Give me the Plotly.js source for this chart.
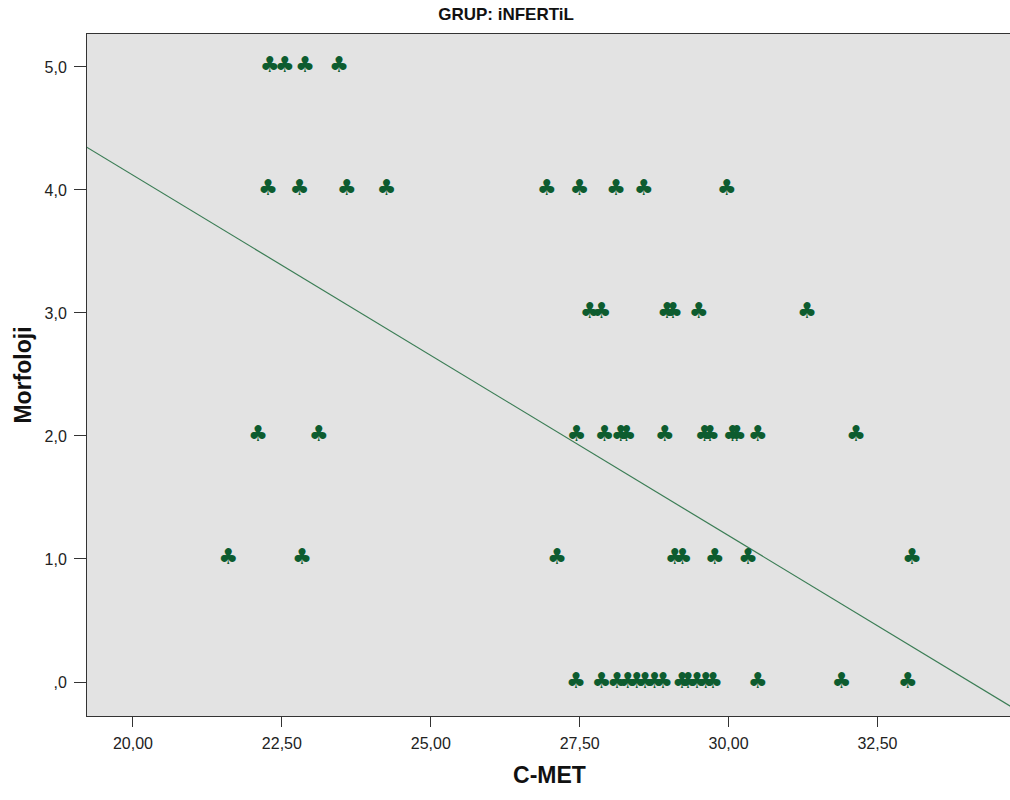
<!DOCTYPE html>
<html><head><meta charset="utf-8">
<script src="https://cdn.plot.ly/plotly-3.0.1.min.js"></script>
<style>html,body{margin:0;padding:0;background:#fff;overflow:hidden}</style>
</head><body><div id="chart" style="width:1012px;height:800px"></div>
<script>
// Morfoloji levels and the C-MET values of the cases at each level
const morfolojiLevels = [5, 4, 3, 2, 1, 0];
const cmetAt5 = [22.30, 22.55, 22.89, 23.46];
const cmetAt4 = [22.27, 22.80, 23.59, 24.26, 26.95, 27.50, 28.11, 28.58, 29.97];
const cmetAt3 = [27.67, 27.87, 28.97, 29.07, 29.50, 31.32];
const cmetAt2 = [22.10, 23.12, 27.45, 27.92, 28.19, 28.29, 28.93, 29.60, 29.69, 30.07, 30.14, 30.49, 32.14];
const cmetAt1 = [21.60, 22.84, 27.12, 29.10, 29.23, 29.77, 30.33, 33.08];
const cmetAt0 = [27.44, 27.87, 28.13, 28.31, 28.46, 28.60, 28.76, 28.90, 29.22, 29.32, 29.47, 29.62, 29.74, 30.49, 31.90, 33.01];
// fit line
const fitIntercept = 9.98;
const fitSlope = -0.293;
const fitXSpan = [18, 36];
// ticks
const xTickVals = [20, 22.5, 25, 27.5, 30, 32.5];
const xTickText = ['20,00', '22,50', '25,00', '27,50', '30,00', '32,50'];
const yTickVals = [0, 1, 2, 3, 4, 5];
const yTickText = [',0', '1,0', '2,0', '3,0', '4,0', '5,0'];

const groups = [cmetAt5, cmetAt4, cmetAt3, cmetAt2, cmetAt1, cmetAt0];
const xs = [], ys = [];
groups.forEach((arr, i) => arr.forEach(v => { xs.push(v); ys.push(morfolojiLevels[i]); }));

const fitTrace = {
  x: fitXSpan, y: fitXSpan.map(x => fitIntercept + fitSlope * x),
  mode: 'lines', type: 'scatter',
  line: {color: '#3b7d55', width: 1.2},
  hoverinfo: 'skip'
};
const pointTrace = {
  x: xs, y: ys, mode: 'text', type: 'scatter',
  text: xs.map(() => '\u2663\uFE0E'),
  textposition: 'middle center',
  textfont: {family: 'DejaVu Sans', size: 22, color: '#0d5c2f'},
  hoverinfo: 'skip'
};

const axisFont = {family: 'Liberation Sans, Arial, sans-serif', size: 16, color: '#222'};
const titleFont = {family: 'Liberation Sans, Arial, sans-serif', size: 23, color: '#111', weight: 'bold'};

const layout = {
  width: 1012, height: 800,
  margin: {l: 87, r: 0, t: 34, b: 84, pad: 0},
  paper_bgcolor: '#ffffff', plot_bgcolor: '#e3e3e3',
  showlegend: false,
  title: {text: 'GRUP: iNFERTiL', xref: 'container', x: 0.5, xanchor: 'center', yref: 'container', y: 0.982, yanchor: 'middle',
    font: {family: 'Liberation Sans, Arial, sans-serif', size: 17, color: '#111', weight: 'bold'}},
  xaxis: {
    range: [19.228, 34.759], showgrid: false, zeroline: false,
    showline: true, linecolor: '#333', linewidth: 1, mirror: true,
    ticks: 'outside', ticklen: 10, tickcolor: '#333', tickwidth: 1, ticklabelstandoff: 3,
    tickvals: xTickVals, ticktext: xTickText, tickfont: axisFont,
    title: {text: 'C-MET', font: titleFont, standoff: 15}
  },
  yaxis: {
    range: [-0.2764, 5.268], showgrid: false, zeroline: false,
    showline: true, linecolor: '#333', linewidth: 1, mirror: true,
    ticks: 'outside', ticklen: 12, tickcolor: '#333', tickwidth: 1, ticklabelstandoff: 4,
    tickvals: yTickVals, ticktext: yTickText, tickfont: axisFont,
    title: {text: 'Morfoloji', font: titleFont, standoff: 6}
  }
};
Plotly.newPlot('chart', [fitTrace, pointTrace], layout, {staticPlot: true, displayModeBar: false});
</script>
</body></html>
